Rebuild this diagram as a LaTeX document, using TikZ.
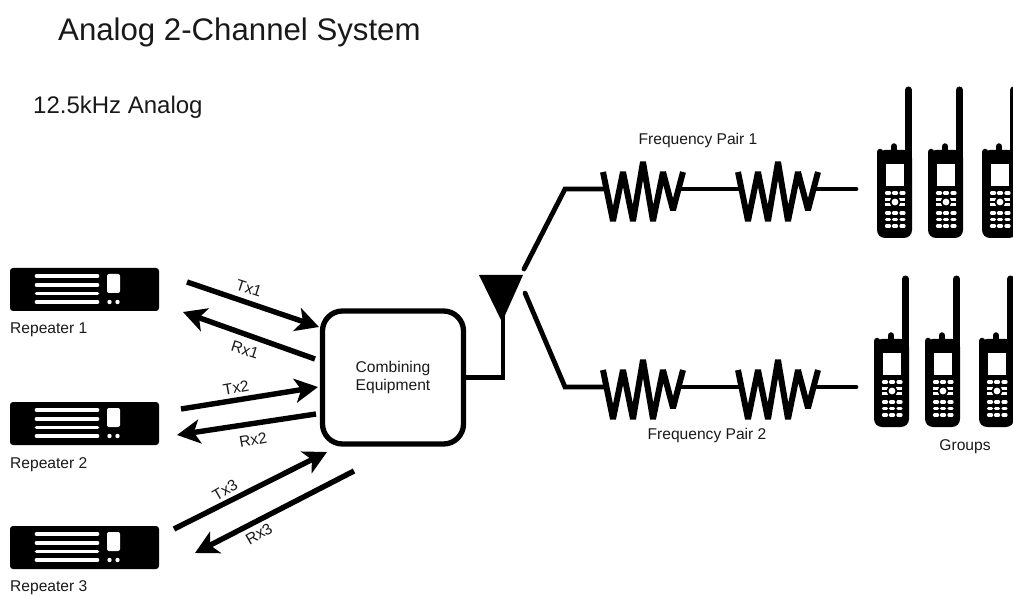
\documentclass[tikz,border=0pt]{standalone}
\usepackage{fontspec}
\setmainfont{Liberation Sans}
\usetikzlibrary{arrows.meta}
\tikzset{
    x=1pt, y=-1pt, % the picture is laid out in reference pixels
    every node/.style={text=black!90, font=\fontsize{15.6}{18.8}\selectfont, inner sep=0pt},
    link/.style={line width=5.4pt, -{Stealth[length=23pt, width=24pt, inset=6pt]}}, % the Tx and Rx arrows
    wire/.style={line width=4.8pt},
    whitebar/.style={white, line width=3.6pt, line cap=round},
    key/.style={white, line width=3.2pt, line cap=round},
    repeater/.pic={
        \node[fill=black, rounded corners=3pt, minimum width=149pt, minimum height=43pt] (-box) at (74.5,21.5) {};
        \draw[whitebar] (26.5,8) -- (87.5,8) (26.5,17) -- (87.5,17) (26.5,25.5) -- (87.5,25.5) (26.5,34) -- (87.5,34);
        \fill[white, rounded corners=2pt] (97,6) rectangle (110,25);
        \fill[white] (99.5,34) circle (2.2pt) (107.5,34) circle (2.2pt);
    },
    radio/.pic={
        \fill[black, rounded corners=8pt] (0,64) rectangle (35,152); % body
        \draw[black, line width=7pt, line cap=round] (31.5,4) -- (31.5,80); % antenna
        \draw[black, line width=6.5pt, line cap=round] (3.2,66) -- (3.2,70) (17,60.5) -- (17,70);
        \node[fill=white, minimum width=18pt, minimum height=22pt] (-screen) at (18,89) {};
        \draw[key] (9.5,107) -- (12.5,107) (16.5,107) -- (19.5,107) (24,107) -- (27,107);
        \draw[white, line width=2.4pt] (8,113.5) -- (28,113.5) (8,118.5) -- (28,118.5);
        \fill[black] (18,116) circle (5.5pt);
        \fill[white] (18,116) circle (3.4pt);
        \draw[key] (9.5,127) -- (12.5,127) (16.5,127) -- (19.5,127) (24,127) -- (27,127);
        \draw[key] (9.5,133.5) -- (12.5,133.5) (16.5,133.5) -- (19.5,133.5) (24,133.5) -- (27,133.5);
        \draw[key] (9.5,140) -- (12.5,140) (16.5,140) -- (19.5,140) (24,140) -- (27,140);
    },
    coil/.pic={
        \draw[line width=6pt, line join=bevel] (0,-17) -- (10,32) -- (20,-17) -- (30,32) -- (40,-27) -- (50,32) -- (60,-17) -- (70,21) -- (80,-17);
        \coordinate (-in) at (3.5,0);
        \coordinate (-out) at (75.5,0);
    },
}
\begin{document}
\begin{tikzpicture}
\useasboundingbox (0,0) rectangle (1013,596);
\node[anchor=west, font=\fontsize{31.2}{36}\selectfont] (title) at (58,32) {Analog 2-Channel System};
\node[anchor=west, font=\fontsize{24}{28}\selectfont] (analog) at (33,107) {12.5kHz Analog};

\pic (rep1) at (10,268) {repeater};
\pic (rep2) at (10,402) {repeater};
\pic (rep3) at (10,526) {repeater};
\node[anchor=west] (rep1label) at (10,330) {Repeater 1};
\node[anchor=west] (rep2label) at (10,465) {Repeater 2};
\node[anchor=west] (rep3label) at (10,588) {Repeater 3};

\node[draw=black, line width=5.3pt, rounded corners=20pt, minimum width=141pt, minimum height=133pt, align=center] (combiner) at (393,377.5) {Combining\\Equipment};

% free ends of the Tx and Rx arrows
\coordinate (tx1a) at (187,282);
\coordinate (tx1b) at (319,327);
\coordinate (rx1a) at (315,359);
\coordinate (rx1b) at (183,312);
\coordinate (tx2a) at (181,409);
\coordinate (tx2b) at (318,387);
\coordinate (rx2a) at (316,414);
\coordinate (rx2b) at (177,435);
\coordinate (tx3a) at (174,529);
\coordinate (tx3b) at (327,452);
\coordinate (rx3a) at (354,471);
\coordinate (rx3b) at (195,553);
\draw[link] (tx1a) -- (tx1b);
\draw[link] (rx1a) -- (rx1b);
\draw[link] (tx2a) -- (tx2b);
\draw[link] (rx2a) -- (rx2b);
\draw[link] (tx3a) -- (tx3b);
\draw[link] (rx3a) -- (rx3b);
\node[rotate=-18] (tx1) at (249,288) {Tx1};
\node[rotate=-18] (rx1) at (245,350) {Rx1};
\node[rotate=10] (tx2) at (236,388) {Tx2};
\node[rotate=10] (rx2) at (253,440) {Rx2};
\node[rotate=30] (tx3) at (225,490) {Tx3};
\node[rotate=30] (rx3) at (259,534) {Rx3};

% antenna
\coordinate (anttip) at (502,322);
\coordinate (antfoot) at (503,377.5);
\fill[black] (479,275) -- (523,275) -- (anttip) -- cycle;
\draw[wire] (503,315) -- (antfoot) -- (combiner.east);

% upper branch
\coordinate (upstart) at (524,269);
\coordinate (upelbow) at (565,189);
\coordinate (upend) at (856,189);
\pic (coil1) at (603,189) {coil};
\pic (coil2) at (738,189) {coil};
\draw[wire, line cap=round] (upstart) -- (upelbow) -- (coil1-in);
\draw[wire] (coil1-out) -- (coil2-in);
\draw[wire, line cap=round] (coil2-out) -- (upend);

% lower branch
\coordinate (lowstart) at (525,293);
\coordinate (lowelbow) at (565,387);
\coordinate (lowend) at (856,387);
\pic (coil3) at (603,387) {coil};
\pic (coil4) at (738,387) {coil};
\draw[wire, line cap=round] (lowstart) -- (lowelbow) -- (coil3-in);
\draw[wire] (coil3-out) -- (coil4-in);
\draw[wire, line cap=round] (coil4-out) -- (lowend);

\node (pair1) at (698,140) {Frequency Pair 1};
\node (pair2) at (707,435) {Frequency Pair 2};

\pic (radio1) at (877,86) {radio};
\pic (radio2) at (928,86) {radio};
\pic (radio3) at (982,86) {radio};
\pic (radio4) at (874,275) {radio};
\pic (radio5) at (925,275) {radio};
\pic (radio6) at (979,275) {radio};
\node (groups) at (965,447) {Groups};
\end{tikzpicture}
\end{document}
